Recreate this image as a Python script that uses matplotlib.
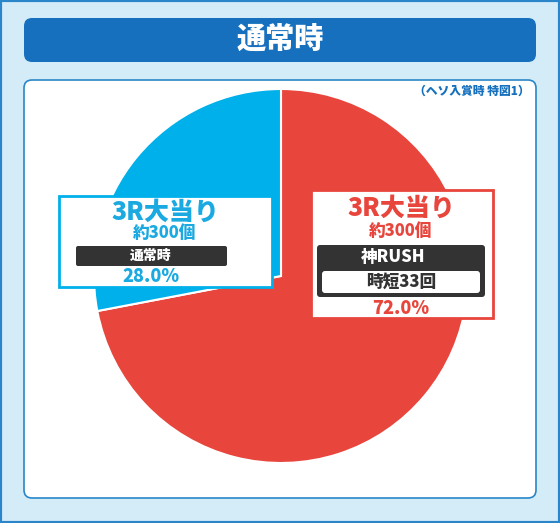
import matplotlib
matplotlib.use("Agg")
import matplotlib.pyplot as plt
from matplotlib.patches import Wedge, FancyBboxPatch, Rectangle

plt.rcParams['font.family'] = ['Noto Sans CJK JP', 'DejaVu Sans']

labels = ['3R大当り', '3R大当り']
shares = [72.0, 28.0]
colors = ['#e8453c', '#00b0ea']
W, H = 560, 523

fig = plt.figure(figsize=(W / 100, H / 100), dpi=100)
ax = fig.add_axes([0, 0, 1, 1])
ax.set_xlim(0, W)
ax.set_ylim(0, H)
ax.axis('off')

def Y(py):
    return H - py

ax.add_patch(Rectangle((0, 0), W, H, fc='#d4ebf8', ec='#2a86c8', lw=3))
ax.add_patch(FancyBboxPatch((24, Y(62)), 512, 44, boxstyle='round,pad=0,rounding_size=8',
                            fc='#1670bd', ec='none'))
ax.text(280, Y(40), '通常時', color='white', fontsize=21, fontweight='heavy', ha='center', va='center')
ax.add_patch(FancyBboxPatch((24, Y(498)), 512, 418, boxstyle='round,pad=0,rounding_size=8',
                            fc='white', ec='#2a86c8', lw=1.2))
ax.text(530, Y(91), '（ヘソ入賞時 特図1）', color='#1670bd', fontsize=8.5, fontweight='heavy',
        ha='right', va='center')

# pie: starts at 12 o'clock, clockwise
cx, cy, r = 281, Y(276), 187
start = 90.0
for s, c in zip(shares, colors):
    ang = s / 100 * 360
    ax.add_patch(Wedge((cx, cy), r, start - ang, start, fc=c, ec='white', lw=1.5))
    start -= ang

# blue label box
ax.add_patch(Rectangle((59, Y(287)), 213, 91, fc='white', ec='#00b0ea', lw=2))
ax.text(165, Y(212), labels[1], color='#1aa9e0', fontsize=18, fontweight='heavy', ha='center', va='center')
ax.text(165, Y(233), '約300個', color='#1aa9e0', fontsize=12, fontweight='heavy', ha='center', va='center')
ax.add_patch(FancyBboxPatch((76, Y(266)), 151, 20, boxstyle='round,pad=0,rounding_size=2',
                            fc='#333333', ec='none'))
ax.text(151, Y(256), '通常時', color='white', fontsize=10, fontweight='heavy', ha='center', va='center')
ax.text(151, Y(277), f'{shares[1]:.1f}%', color='#1aa9e0', fontsize=13, fontweight='heavy', ha='center', va='center')

# red label box
ax.add_patch(Rectangle((311, Y(318)), 182, 128, fc='white', ec='#e8453c', lw=2))
ax.text(401, Y(208), labels[0], color='#e8453c', fontsize=18, fontweight='heavy', ha='center', va='center')
ax.text(401, Y(231), '約300個', color='#e8453c', fontsize=12, fontweight='heavy', ha='center', va='center')
ax.add_patch(FancyBboxPatch((317, Y(297)), 168, 52, boxstyle='round,pad=0,rounding_size=3',
                            fc='#333333', ec='none'))
ax.text(393, Y(257), '神RUSH', color='white', fontsize=12, fontweight='heavy', ha='center', va='center')
ax.add_patch(FancyBboxPatch((322, Y(293)), 158, 22, boxstyle='round,pad=0,rounding_size=3',
                            fc='white', ec='none'))
ax.text(401, Y(282), '時短33回', color='#333333', fontsize=12, fontweight='heavy', ha='center', va='center')
ax.text(401, Y(308), f'{shares[0]:.1f}%', color='#e8453c', fontsize=13, fontweight='heavy', ha='center', va='center')

fig.savefig('out.png', dpi=100)
